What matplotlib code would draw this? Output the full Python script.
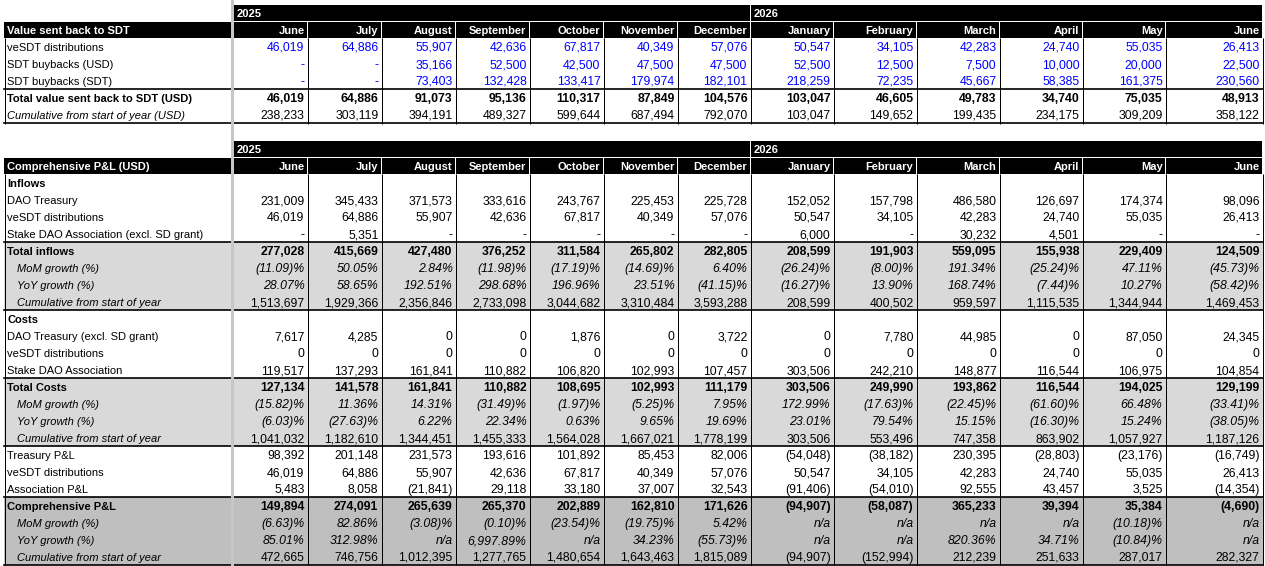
import matplotlib
matplotlib.use("Agg")
import matplotlib.pyplot as plt
from matplotlib.patches import Rectangle

plt.rcParams['font.family'] = ['Liberation Sans', 'DejaVu Sans']

# ---------------- data ----------------
years = ["2025", "2026"]
months = ["June", "July", "August", "September", "October", "November", "December",
          "January", "February", "March", "April", "May", "June"]
months_per_year = [7, 6]

vesdt_dist = [46019, 64886, 55907, 42636, 67817, 40349, 57076, 50547, 34105, 42283, 24740, 55035, 26413]
buyback_usd = [None, None, 35166, 52500, 42500, 47500, 47500, 52500, 12500, 7500, 10000, 20000, 22500]
buyback_sdt = [None, None, 73403, 132428, 133417, 179974, 182101, 218259, 72235, 45667, 58385, 161375, 230560]
total_sent = [46019, 64886, 91073, 95136, 110317, 87849, 104576, 103047, 46605, 49783, 34740, 75035, 48913]
cum_sent = [238233, 303119, 394191, 489327, 599644, 687494, 792070, 103047, 149652, 199435, 234175, 309209, 358122]

in_dao = [231009, 345433, 371573, 333616, 243767, 225453, 225728, 152052, 157798, 486580, 126697, 174374, 98096]
in_assoc = [None, 5351, None, None, None, None, None, 6000, None, 30232, 4501, None, None]
in_total = [277028, 415669, 427480, 376252, 311584, 265802, 282805, 208599, 191903, 559095, 155938, 229409, 124509]
in_mom = [-11.09, 50.05, 2.84, -11.98, -17.19, -14.69, 6.40, -26.24, -8.00, 191.34, -25.24, 47.11, -45.73]
in_yoy = [28.07, 58.65, 192.51, 298.68, 196.96, 23.51, -41.15, -16.27, 13.90, 168.74, -7.44, 10.27, -58.42]
in_cum = [1513697, 1929366, 2356846, 2733098, 3044682, 3310484, 3593288, 208599, 400502, 959597, 1115535, 1344944, 1469453]

co_dao = [7617, 4285, 0, 0, 1876, 0, 3722, 0, 7780, 44985, 0, 87050, 24345]
co_vesdt = [0, 0, 0, 0, 0, 0, 0, 0, 0, 0, 0, 0, 0]
co_assoc = [119517, 137293, 161841, 110882, 106820, 102993, 107457, 303506, 242210, 148877, 116544, 106975, 104854]
co_total = [127134, 141578, 161841, 110882, 108695, 102993, 111179, 303506, 249990, 193862, 116544, 194025, 129199]
co_mom = [-15.82, 11.36, 14.31, -31.49, -1.97, -5.25, 7.95, 172.99, -17.63, -22.45, -61.60, 66.48, -33.41]
co_yoy = [-6.03, -27.63, 6.22, 22.34, 0.63, 9.65, 19.69, 23.01, 79.54, 15.15, -16.30, 15.24, -38.05]
co_cum = [1041032, 1182610, 1344451, 1455333, 1564028, 1667021, 1778199, 303506, 553496, 747358, 863902, 1057927, 1187126]

pl_treasury = [98392, 201148, 231573, 193616, 101892, 85453, 82006, -54048, -38182, 230395, -28803, -23176, -16749]
pl_assoc = [5483, 8058, -21841, 29118, 33180, 37007, 32543, -91406, -54010, 92555, 43457, 3525, -14354]
pl_comp = [149894, 274091, 265639, 265370, 202889, 162810, 171626, -94907, -58087, 365233, 39394, 35384, -4690]
pl_mom = [-6.63, 82.86, -3.08, -0.10, -23.54, -19.75, 5.42, None, None, None, None, -10.18, None]
pl_yoy = [85.01, 312.98, None, 6997.89, None, 34.23, -55.73, None, None, 820.36, 34.71, -10.84, None]
pl_cum = [472665, 746756, 1012395, 1277765, 1480654, 1643463, 1815089, -94907, -152994, 212239, 251633, 287017, 282327]

# ---------------- formatting ----------------
def fmt_num(v):
    if v is None:
        return "-"
    if v < 0:
        return f"({abs(v):,.0f})"
    return f"{v:,.0f}"

def fmt_pct(v):
    if v is None:
        return "n/a"
    if v < 0:
        return f"({abs(v):,.2f})%"
    return f"{v:,.2f}%"

# ---------------- layout ----------------
W, H = 1265, 566
fig = plt.figure(figsize=(W / 100, H / 100), dpi=100)
ax = fig.add_axes([0, 0, 1, 1])
ax.set_xlim(0, W)
ax.set_ylim(H, 0)
ax.axis("off")

ROW_H = 17
TOP0 = 4
LBL_L, LBL_R = 4, 230
DATA_L = 234
col_w = [74, 74, 74, 74, 74, 74, 73, 83, 83, 83, 83, 83, 97]
edges = [DATA_L]
for w in col_w:
    edges.append(edges[-1] + w)
DATA_R = edges[-1]

BLUE = "#0000FF"
LIGHT = "#D9D9D9"
DARK = "#BFBFBF"
FS_LBL = 8.0
FS_NUM = 8.8

def rtop(r):
    return TOP0 + r * ROW_H

def rbase(r):
    return rtop(r) + 13.0

# frozen pane bar
ax.add_patch(Rectangle((231, 0), 3, H, facecolor="#C6C6C6", edgecolor="none", zorder=5))

def year_row(r):
    y = rtop(r)
    start = 0
    for yr, n in zip(years, months_per_year):
        x0, x1 = edges[start], edges[start + n]
        ax.add_patch(Rectangle((x0, y + 1), x1 - x0 - 1, ROW_H - 1, facecolor="black",
                               edgecolor="none", zorder=2))
        ax.text(x0 + 3, rbase(r), yr, color="white", fontsize=FS_LBL, fontweight="bold",
                ha="left", va="baseline", zorder=3)
        start += n

def header_row(r, title):
    y = rtop(r)
    ax.add_patch(Rectangle((LBL_L, y + 1), LBL_R - LBL_L + 1, ROW_H - 1, facecolor="black",
                           edgecolor="none", zorder=2))
    ax.text(LBL_L + 3, rbase(r), title, color="white", fontsize=FS_LBL, fontweight="bold",
            ha="left", va="baseline", zorder=3)
    for i, m in enumerate(months):
        x0, x1 = edges[i], edges[i + 1]
        ax.add_patch(Rectangle((x0, y + 1), x1 - x0 - 1, ROW_H - 1, facecolor="black",
                               edgecolor="none", zorder=2))
        ax.text(x1 - 3.5, rbase(r), m, color="white", fontsize=FS_LBL, fontweight="bold",
                ha="right", va="baseline", zorder=3)

def data_row(r, label, values=None, kind="num", weight="normal", lstyle="normal",
             vstyle="normal", indent=False, color="black", fill=None):
    y = rtop(r)
    if fill is not None:
        ax.add_patch(Rectangle((LBL_L, y), DATA_R - LBL_L, ROW_H, facecolor=fill,
                               edgecolor="none", zorder=1))
    ax.text(LBL_L + (13 if indent else 3), rbase(r), label, fontsize=FS_LBL,
            fontweight=weight, fontstyle=lstyle, ha="left", va="baseline", zorder=3)
    if values is not None:
        for i, v in enumerate(values):
            s = fmt_pct(v) if kind == "pct" else fmt_num(v)
            ax.text(edges[i + 1] - 3.5, rbase(r), s, fontsize=FS_NUM, fontweight=weight,
                    fontstyle=vstyle, color=color, ha="right", va="baseline", zorder=3)

def grid(r0, r1, heavy):
    y0, y1 = rtop(r0), rtop(r1) + 0.5
    lw = 0.72
    ax.plot([LBL_L + 0.5] * 2, [y0, y1], color="black", lw=lw, zorder=4, solid_capstyle="butt")
    ax.plot([LBL_R + 0.5] * 2, [y0, y1], color="black", lw=lw, zorder=4, solid_capstyle="butt")
    for e in edges[1:]:
        ax.plot([e - 0.5] * 2, [y0, y1], color="black", lw=lw, zorder=4, solid_capstyle="butt")
    for hr in heavy:
        yy = rtop(hr)
        ax.plot([LBL_L, LBL_R + 1], [yy, yy], color="black", lw=1.2, zorder=4)
        ax.plot([DATA_L, DATA_R], [yy, yy], color="black", lw=1.2, zorder=4)

# ---------------- top table ----------------
year_row(0)
header_row(1, "Value sent back to SDT")
data_row(2, "veSDT distributions", vesdt_dist, color=BLUE)
data_row(3, "SDT buybacks (USD)", buyback_usd, color=BLUE)
data_row(4, "SDT buybacks (SDT)", buyback_sdt, color=BLUE)
data_row(5, "Total value sent back to SDT (USD)", total_sent, weight="bold")
data_row(6, "Cumulative from start of year (USD)", cum_sent, lstyle="italic")
grid(2, 7, [5, 7])

# ---------------- bottom table ----------------
year_row(8)
header_row(9, "Comprehensive P&L (USD)")
data_row(10, "Inflows", weight="bold")
data_row(11, "DAO Treasury", in_dao)
data_row(12, "veSDT distributions", vesdt_dist)
data_row(13, "Stake DAO Association (excl. SD grant)", in_assoc)
data_row(14, "Total inflows", in_total, weight="bold", fill=LIGHT)
data_row(15, "MoM growth (%)", in_mom, kind="pct", lstyle="italic", vstyle="italic", indent=True, fill=LIGHT)
data_row(16, "YoY growth (%)", in_yoy, kind="pct", lstyle="italic", vstyle="italic", indent=True, fill=LIGHT)
data_row(17, "Cumulative from start of year", in_cum, lstyle="italic", indent=True, fill=LIGHT)
data_row(18, "Costs", weight="bold")
data_row(19, "DAO Treasury (excl. SD grant)", co_dao)
data_row(20, "veSDT distributions", co_vesdt)
data_row(21, "Stake DAO Association", co_assoc)
data_row(22, "Total Costs", co_total, weight="bold", fill=LIGHT)
data_row(23, "MoM growth (%)", co_mom, kind="pct", lstyle="italic", vstyle="italic", indent=True, fill=LIGHT)
data_row(24, "YoY growth (%)", co_yoy, kind="pct", lstyle="italic", vstyle="italic", indent=True, fill=LIGHT)
data_row(25, "Cumulative from start of year", co_cum, lstyle="italic", indent=True, fill=LIGHT)
data_row(26, "Treasury P&L", pl_treasury)
data_row(27, "veSDT distributions", vesdt_dist)
data_row(28, "Association P&L", pl_assoc)
data_row(29, "Comprehensive P&L", pl_comp, weight="bold", fill=DARK)
data_row(30, "MoM growth (%)", pl_mom, kind="pct", lstyle="italic", vstyle="italic", indent=True, fill=DARK)
data_row(31, "YoY growth (%)", pl_yoy, kind="pct", lstyle="italic", vstyle="italic", indent=True, fill=DARK)
data_row(32, "Cumulative from start of year", pl_cum, lstyle="italic", indent=True, fill=DARK)
grid(10, 33, [14, 18, 22, 26, 29, 33])

fig.savefig("out.png", dpi=100)
